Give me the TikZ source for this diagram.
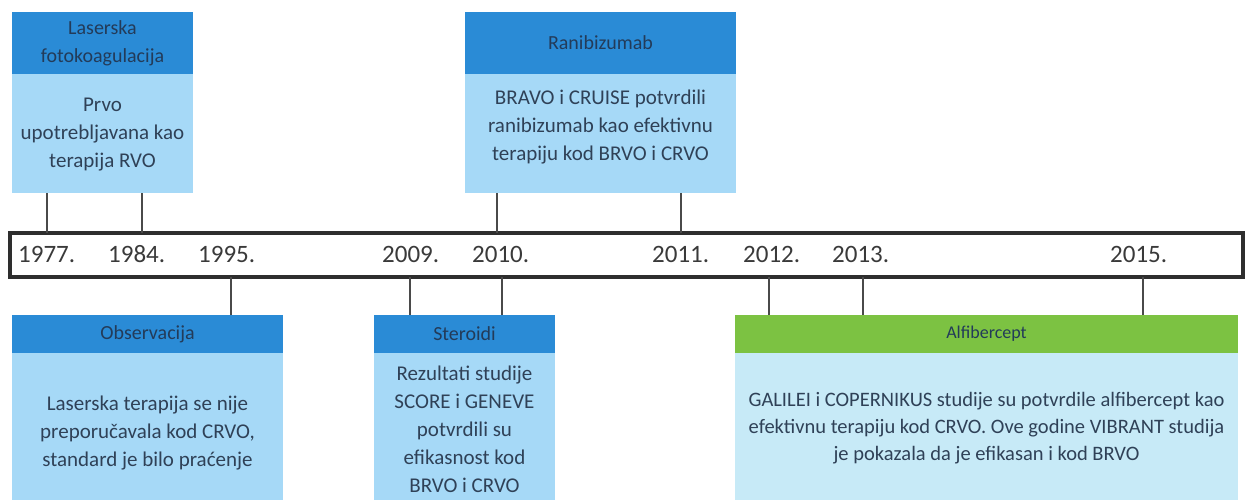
\documentclass[tikz,border=0pt]{standalone}
\usepackage{fontspec}
\setmainfont{Carlito}
\definecolor{hblue}{HTML}{2A8BD6}
\definecolor{lblue}{HTML}{A6D9F7}
\definecolor{alfbody}{HTML}{C7EAF7}
\definecolor{hgreen}{HTML}{7CC242}
\definecolor{navy}{HTML}{233B59}
\definecolor{bodytxt}{HTML}{2F4157}
\definecolor{yeartxt}{HTML}{3A3A3A}
\definecolor{tickcol}{HTML}{4A4A4A}
\definecolor{barcol}{HTML}{2E2E2E}
\begin{document}
\begin{tikzpicture}[x=1pt,y=-1pt,
  box/.style={anchor=north west,inner sep=0pt,outer sep=0pt,draw=none},
  hdrtext/.style={text=navy,font=\fontsize{20}{28}\selectfont,align=center,inner sep=0pt},
  bodytext/.style={text=bodytxt,font=\fontsize{21}{28}\selectfont,align=center,inner sep=0pt},
  year/.style={anchor=base west,text=yeartxt,font=\fontsize{25}{30}\selectfont,inner sep=0pt},
  tick/.style={draw=tickcol,line width=1.5pt}]
\useasboundingbox (0,0) rectangle (1253,500);
\fill[white] (0,0) rectangle (1253,500);

% timeline bar
\node[box,draw=barcol,line width=4pt,fill=white,minimum width=1233pt,minimum height=44pt] (bar) at (10,233) {};

% years
\node[year] (y1977) at (18,262) {1977.};
\node[year] (y1984) at (108,262) {1984.};
\node[year] (y1995) at (198,262) {1995.};
\node[year] (y2009) at (382,262) {2009.};
\node[year] (y2010) at (472,262) {2010.};
\node[year] (y2011) at (652,262) {2011.};
\node[year] (y2012) at (743,262) {2012.};
\node[year] (y2013) at (832,262) {2013.};
\node[year] (y2015) at (1110,262) {2015.};

% tick coordinates on the bar
\coordinate (t1977) at (47,233);
\coordinate (t1984) at (142,233);
\coordinate (t2010a) at (497,233);
\coordinate (t2011) at (681,233);
\coordinate (t1995) at (231,277);
\coordinate (t2009) at (410,277);
\coordinate (t2010b) at (502,277);
\coordinate (t2012) at (769,277);
\coordinate (t2013) at (863,277);
\coordinate (t2015) at (1143,277);

% Laserska fotokoagulacija
\node[box,fill=hblue,minimum width=181pt,minimum height=62pt] (lasH) at (12,12) {};
\node[box,fill=lblue,minimum width=181pt,minimum height=119pt] (lasB) at (12,74) {};
\node[hdrtext] (lasHT) at (102.5,43) {Laserska\\fotokoagulacija};
\node[bodytext] (lasBT) at (102.5,135) {Prvo\\upotrebljavana kao\\terapija RVO};

% Ranibizumab
\node[box,fill=hblue,minimum width=271pt,minimum height=62pt] (ranH) at (465,12) {};
\node[box,fill=lblue,minimum width=271pt,minimum height=119pt] (ranB) at (465,74) {};
\node[hdrtext] (ranHT) at (600.5,43) {Ranibizumab};
\node[bodytext] (ranBT) at (600.5,127) {BRAVO i CRUISE potvrdili\\ranibizumab kao efektivnu\\terapiju kod BRVO i CRVO};

% Observacija
\node[box,fill=hblue,minimum width=271pt,minimum height=38pt] (obsH) at (12,315) {};
\node[box,fill=lblue,minimum width=271pt,minimum height=147pt] (obsB) at (12,353) {};
\node[hdrtext] (obsHT) at (147.5,334) {Observacija};
\node[bodytext] (obsBT) at (147.5,433) {Laserska terapija se nije\\preporučavala kod CRVO,\\standard je bilo praćenje};

% Steroidi
\node[box,fill=hblue,minimum width=181pt,minimum height=38pt] (sterH) at (374,315) {};
\node[box,fill=lblue,minimum width=181pt,minimum height=147pt] (sterB) at (374,353) {};
\node[hdrtext] (sterHT) at (464.5,334) {Steroidi};
\node[bodytext] (sterBT) at (464.5,429) {Rezultati studije\\SCORE i GENEVE\\potvrdili su\\efikasnost kod\\BRVO i CRVO};

% Alfibercept
\node[box,fill=hgreen,minimum width=503pt,minimum height=38pt] (alfH) at (735,315) {};
\node[box,fill=alfbody,minimum width=503pt,minimum height=147pt] (alfB) at (735,353) {};
\node[hdrtext,font=\fontsize{18}{24}\selectfont] (alfHT) at (986.5,334) {Alfibercept};
\node[bodytext,font=\fontsize{20.5}{27}\selectfont] (alfBT) at (986.5,428) {GALILEI i COPERNIKUS studije su potvrdile alfibercept kao\\efektivnu terapiju kod CRVO. Ove godine VIBRANT studija\\je pokazala da je efikasan i kod BRVO};

% connectors
\draw[tick] (lasB.south -| t1977) -- (t1977);
\draw[tick] (lasB.south -| t1984) -- (t1984);
\draw[tick] (ranB.south -| t2010a) -- (t2010a);
\draw[tick] (ranB.south -| t2011) -- (t2011);
\draw[tick] (t1995) -- (obsH.north -| t1995);
\draw[tick] (t2009) -- (sterH.north -| t2009);
\draw[tick] (t2010b) -- (sterH.north -| t2010b);
\draw[tick] (t2012) -- (alfH.north -| t2012);
\draw[tick] (t2013) -- (alfH.north -| t2013);
\draw[tick] (t2015) -- (alfH.north -| t2015);
\end{tikzpicture}
\end{document}
